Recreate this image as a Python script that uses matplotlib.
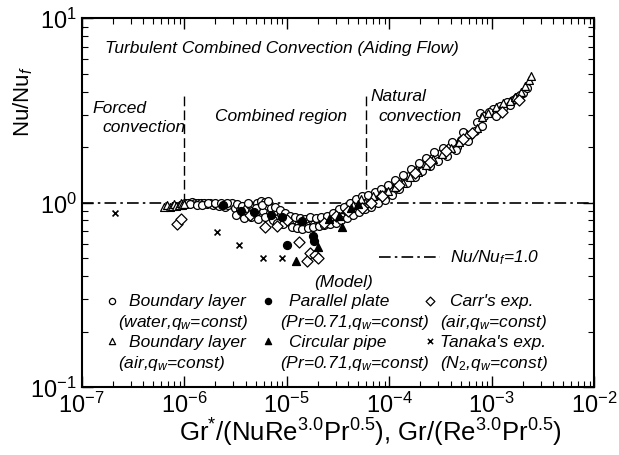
import numpy as np
import matplotlib
matplotlib.use("Agg")
import matplotlib.pyplot as plt

plt.rcParams['font.family'] = ['Liberation Sans', 'DejaVu Sans']
plt.rcParams['mathtext.fontset'] = 'custom'
plt.rcParams['mathtext.rm'] = 'Liberation Sans'
plt.rcParams['mathtext.it'] = 'Liberation Sans:italic'
plt.rcParams['mathtext.bf'] = 'Liberation Sans:bold'

# boundary layer, water, q_w = const
bl_water_x = [1.02e-6, 1.1e-6, 1.18e-6, 1.27e-6, 1.36e-6, 1.45e-6, 1.55e-6, 1.66e-6, 1.78e-6, 1.9e-6,
              2.05e-6, 2.2e-6, 2.35e-6, 2.5e-6, 2.7e-6, 2.9e-6, 3.1e-6, 3.3e-6, 3.5e-6, 3.7e-6,
              3.9e-6, 4.1e-6, 4.35e-6, 4.6e-6, 4.85e-6, 5.1e-6, 5.4e-6, 5.6e-6, 5.9e-6, 6.2e-6,
              6.5e-6, 6.8e-6, 7.1e-6, 7.5e-6, 7.9e-6, 8.3e-6, 8.8e-6, 9.3e-6, 9.8e-6, 1.04e-5,
              1.1e-5, 1.16e-5, 1.23e-5, 1.3e-5, 1.38e-5, 1.46e-5, 1.55e-5, 1.65e-5, 1.75e-5, 1.86e-5,
              1.98e-5, 2.1e-5, 2.25e-5, 2.4e-5, 2.55e-5, 2.7e-5, 2.9e-5, 3.1e-5, 3.3e-5, 3.5e-5,
              3.75e-5, 4.0e-5, 4.3e-5, 4.6e-5, 4.9e-5, 5.2e-5, 5.6e-5, 6.0e-5, 6.4e-5, 6.9e-5,
              7.4e-5, 8.0e-5, 8.7e-5, 9.4e-5, 1.02e-4, 1.1e-4, 1.2e-4, 1.3e-4, 1.42e-4, 1.55e-4,
              1.7e-4, 1.85e-4, 2.0e-4, 2.2e-4, 2.4e-4, 2.65e-4, 2.9e-4, 3.2e-4, 3.5e-4, 3.9e-4,
              4.3e-4, 4.6e-4, 5.0e-4, 5.6e-4, 6.1e-4, 6.8e-4, 7.7e-4, 8.5e-4, 1.03e-3, 1.2e-3,
              1.4e-3, 1.6e-3, 1.78e-3, 1.9e-3,
              1.13e-6, 1.32e-6, 1.5e-6, 1.72e-6, 2.0e-6, 2.3e-6, 2.6e-6,
              3.2e-6, 3.8e-6, 4.2e-6, 4.5e-6, 5.0e-6, 5.3e-6, 5.8e-6, 6.1e-6, 6.6e-6, 7.3e-6,
              7.7e-6, 8.1e-6, 8.6e-6, 9.1e-6, 9.6e-6, 1.07e-5, 1.13e-5, 1.2e-5, 1.27e-5, 1.34e-5,
              1.42e-5, 1.5e-5, 1.6e-5, 1.7e-5, 1.8e-5, 1.92e-5, 2.05e-5, 2.18e-5, 2.32e-5, 2.48e-5,
              2.62e-5, 2.8e-5, 3.0e-5, 3.2e-5, 3.4e-5, 3.6e-5, 3.9e-5, 4.15e-5, 4.45e-5, 4.75e-5,
              5.05e-5, 5.4e-5, 5.8e-5, 6.2e-5, 6.7e-5, 7.2e-5, 7.7e-5, 8.4e-5, 9.0e-5, 9.8e-5,
              1.06e-4, 1.15e-4, 1.25e-4, 1.36e-4, 1.48e-4, 1.62e-4, 1.78e-4, 1.95e-4, 2.1e-4, 2.3e-4,
              2.5e-4, 2.75e-4, 3.0e-4, 3.35e-4, 3.7e-4, 4.1e-4, 4.5e-4, 5.3e-4, 5.9e-4, 7.2e-4,
              8.1e-4, 9.4e-4, 1.1e-3, 1.3e-3, 1.5e-3, 1.7e-3, 2.0e-3, 2.2e-3]
bl_water_y = [0.99, 1.00, 1.01, 0.99, 1.00, 1.00, 0.99, 0.98, 0.99, 0.97,
              0.98, 0.96, 0.97, 0.95, 0.97, 0.99, 0.94, 0.98, 0.91, 0.96,
              0.88, 0.93, 0.97, 0.90, 0.86, 1.00, 0.95, 1.02, 0.90, 1.01,
              0.96, 0.88, 0.93, 0.85, 0.89, 0.83, 0.87, 0.81, 0.84, 0.79,
              0.82, 0.77, 0.80, 0.76, 0.79, 0.75, 0.78, 0.76, 0.80, 0.77,
              0.81, 0.78, 0.80, 0.79, 0.82, 0.80, 0.84, 0.81, 0.87, 0.84,
              0.91, 0.88, 0.95, 0.92, 1.00, 0.96, 1.04, 0.99, 1.06, 1.02,
              1.10, 1.06, 1.14, 1.10, 1.20, 1.16, 1.26, 1.30, 1.34, 1.40,
              1.46, 1.50, 1.56, 1.62, 1.68, 1.74, 1.80, 1.86, 1.93, 2.00,
              2.08, 1.99, 2.18, 2.28, 2.32, 2.45, 3.05, 2.95, 3.20, 3.35,
              3.50, 3.60, 3.75, 3.85,
              0.98, 0.97, 0.97, 1.00, 1.00, 0.99, 0.99,
              0.86, 0.83, 0.99, 0.84, 0.93, 0.82, 0.97, 0.84, 1.02, 0.80,
              0.95, 0.78, 0.91, 0.77, 0.88, 0.85, 0.74, 0.84, 0.73, 0.83,
              0.72, 0.82, 0.73, 0.84, 0.74, 0.83, 0.75, 0.84, 0.76, 0.85,
              0.77, 0.88, 0.78, 0.92, 0.80, 0.95, 0.83, 0.99, 0.86, 1.04,
              0.89, 1.08, 0.92, 1.10, 0.95, 1.14, 1.00, 1.18, 1.03, 1.24,
              1.10, 1.32, 1.18, 1.42, 1.28, 1.52, 1.38, 1.64, 1.48, 1.75,
              1.58, 1.88, 1.68, 1.98, 1.80, 2.12, 1.92, 2.40, 2.15, 2.75,
              2.60, 3.10, 2.95, 3.25, 3.40, 3.65, 3.95, 4.20]

# boundary layer, air, q_w = const
bl_air_x = [6.4e-7, 6.8e-7, 7.2e-7, 7.6e-7, 8.0e-7, 8.4e-7, 8.8e-7, 9.2e-7, 9.6e-7, 1.0e-6,
            4.4e-5, 5.3e-5, 6.2e-5, 7.0e-5, 8.2e-5, 9.8e-5, 1.15e-4, 1.35e-4, 1.6e-4, 1.9e-4,
            2.3e-4, 2.7e-4, 3.3e-4, 4.0e-4, 4.8e-4, 5.8e-4, 7.2e-4, 8.0e-4, 9.2e-4, 1.1e-3,
            1.3e-3, 1.5e-3, 1.7e-3, 1.95e-3, 2.1e-3, 2.3e-3, 2.4e-3]
bl_air_y = [0.95, 0.97, 0.95, 0.96, 0.98, 0.96, 0.97, 0.99, 0.97, 0.98,
            0.97, 1.05, 1.00, 1.08, 1.12, 1.15, 1.22, 1.28, 1.37, 1.47,
            1.60, 1.72, 1.84, 1.97, 2.12, 2.35, 2.55, 2.90, 3.05, 3.30,
            3.45, 3.55, 3.75, 4.00, 4.30, 4.60, 4.85]

# parallel plate (Pr = 0.71)
plate_x = [2.4e-6, 3.6e-6, 4.8e-6, 7.0e-6, 9.0e-6, 1.0e-5, 1.4e-5, 1.8e-5, 1.85e-5]
plate_y = [0.97, 0.90, 0.89, 0.86, 0.84, 0.59, 0.79, 0.66, 0.62]

# circular pipe (Pr = 0.71)
pipe_x = [1.23e-5, 2.0e-5, 2.6e-5, 3.2e-5, 3.5e-5, 4.2e-5, 5.0e-5]
pipe_y = [0.485, 0.575, 0.82, 0.85, 0.74, 0.93, 0.98]

# Carr's experiment
carr_x = [8.5e-7, 9.3e-7, 4.4e-6, 6.1e-6, 8.0e-6, 1.0e-5, 1.32e-5, 1.57e-5, 1.7e-5, 1.9e-5,
          2.0e-5, 2.3e-5, 3.0e-5, 4.0e-5, 5.4e-5, 6.6e-5, 8.5e-5, 1.25e-4, 1.8e-4, 2.5e-4,
          3.6e-4, 5.2e-4, 6.4e-4, 1.25e-3, 1.85e-3]
carr_y = [0.77, 0.82, 0.86, 0.74, 0.75, 0.80, 0.61, 0.485, 0.53, 0.52,
          0.50, 0.78, 0.85, 0.90, 0.94, 1.00, 1.08, 1.24, 1.44, 1.66,
          1.90, 2.20, 2.38, 3.10, 3.60]

# Tanaka's experiment
tanaka_x = [2.1e-7, 2.1e-6, 3.4e-6, 5.9e-6, 9.0e-6]
tanaka_y = [0.88, 0.69, 0.59, 0.50, 0.50]

# region boundaries
bounds_x = [1.0e-6, 5.9e-5]

fig = plt.figure(figsize=(6.19, 4.56), dpi=100)
ax = fig.add_axes([0.132, 0.149, 0.828, 0.809])
ax.set_xscale('log')
ax.set_yscale('log')
ax.set_xlim(1e-7, 1e-2)
ax.set_ylim(1e-1, 1e1)

ms = 32
kw_open = dict(facecolors='white', edgecolors='black', linewidths=0.9, zorder=3)
ax.scatter(bl_water_x, bl_water_y, s=ms, marker='o', **kw_open)
ax.scatter(bl_air_x, bl_air_y, s=ms, marker='^', **kw_open)
ax.scatter(carr_x, carr_y, s=ms, marker='D', **kw_open)
ax.scatter(plate_x, plate_y, s=ms, marker='o', color='black', zorder=4)
ax.scatter(pipe_x, pipe_y, s=ms, marker='^', color='black', zorder=4)
ax.scatter(tanaka_x, tanaka_y, s=18, marker='x', color='black', linewidths=1.2, zorder=4)

# Nu/Nu_f = 1 reference line and region dividers
dashdot = (7, 2.5, 1.5, 2.5)
ax.axhline(1.0, color='black', lw=1.2, dashes=dashdot, zorder=2)
for bx in bounds_x:
    ax.plot([bx, bx], [1.0, 3.8], color='black', lw=1.0, dashes=(7, 3))

it = dict(style='italic', fontsize=12.5, color='black')
ax.text(1.7e-7, 6.9, 'Turbulent Combined Convection (Aiding Flow)', va='center', **it)
ax.text(1.28e-7, 3.27, 'Forced', va='center', **it)
ax.text(1.6e-7, 2.58, 'convection', va='center', **it)
ax.text(2.0e-6, 2.96, 'Combined region', va='center', **it)
ax.text(6.6e-5, 3.8, 'Natural', va='center', **it)
ax.text(7.9e-5, 2.96, 'convection', va='center', **it)
ax.text(1.85e-5, 0.373, '(Model)', va='center', **it)

ax.plot([7.9e-5, 3.1e-4], [0.51, 0.51], color='black', lw=1.2, dashes=dashdot)
ax.text(3.9e-4, 0.51, r'Nu/Nu$_f$=1.0', va='center', **it)

# legend block: marker, first line, second line
legend_marker = ['o', 'o', 'D', '^', '^', 'x']
legend_fill = ['white', 'black', 'white', 'white', 'black', 'black']
legend_title = ['Boundary layer', 'Parallel plate', "Carr's exp.",
                'Boundary layer', 'Circular pipe', "Tanaka's exp."]
legend_sub = [r'(water,$q_w$=const)', r'(Pr=0.71,$q_w$=const)', r'(air,$q_w$=const)',
              r'(air,$q_w$=const)', r'(Pr=0.71,$q_w$=const)', r'(N$_2$,$q_w$=const)']
col_marker_x = [1.96e-7, 6.55e-6, 2.5e-4]
col_title_x = [2.9e-7, 1.05e-5, 3.93e-4]
col_sub_x = [2.25e-7, 8.6e-6, 3.13e-4]
row_y = [(0.294, 0.226), (0.177, 0.136)]
for i in range(6):
    r, c = divmod(i, 3)
    ty, sy = row_y[r]
    if legend_marker[i] == 'x':
        ax.scatter([col_marker_x[c]], [ty], s=14, marker='x', color='black', linewidths=1.1)
    else:
        ax.scatter([col_marker_x[c]], [ty], s=20, marker=legend_marker[i],
                   facecolors=legend_fill[i], edgecolors='black', linewidths=0.9)
    tx = col_title_x[c]
    if r == 1 and c == 2:
        tx = col_sub_x[c]
    ax.text(tx, ty, legend_title[i], va='center', **it)
    ax.text(col_sub_x[c], sy, legend_sub[i], va='center', **it)

ax.tick_params(which='both', direction='in', top=True, right=True, labelsize=17)
ax.tick_params(which='major', length=8, width=1.0)
ax.tick_params(which='minor', length=4, width=0.8)
ax.xaxis.set_minor_locator(matplotlib.ticker.LogLocator(base=10, subs=np.arange(2, 10), numticks=20))
ax.yaxis.set_minor_locator(matplotlib.ticker.LogLocator(base=10, subs=np.arange(2, 10), numticks=20))
for sp in ax.spines.values():
    sp.set_linewidth(1.5)

ax.set_xlabel(r'Gr$^{*}$/(NuRe$^{3.0}$Pr$^{0.5}$), Gr/(Re$^{3.0}$Pr$^{0.5}$)', fontsize=18.5)
ax.xaxis.set_label_coords(0.5625, -0.078)
ax.set_ylabel(r'Nu/Nu$_f$', fontsize=16)
ax.yaxis.set_label_coords(-0.092, 0.778)

fig.savefig('out.png', dpi=100)
